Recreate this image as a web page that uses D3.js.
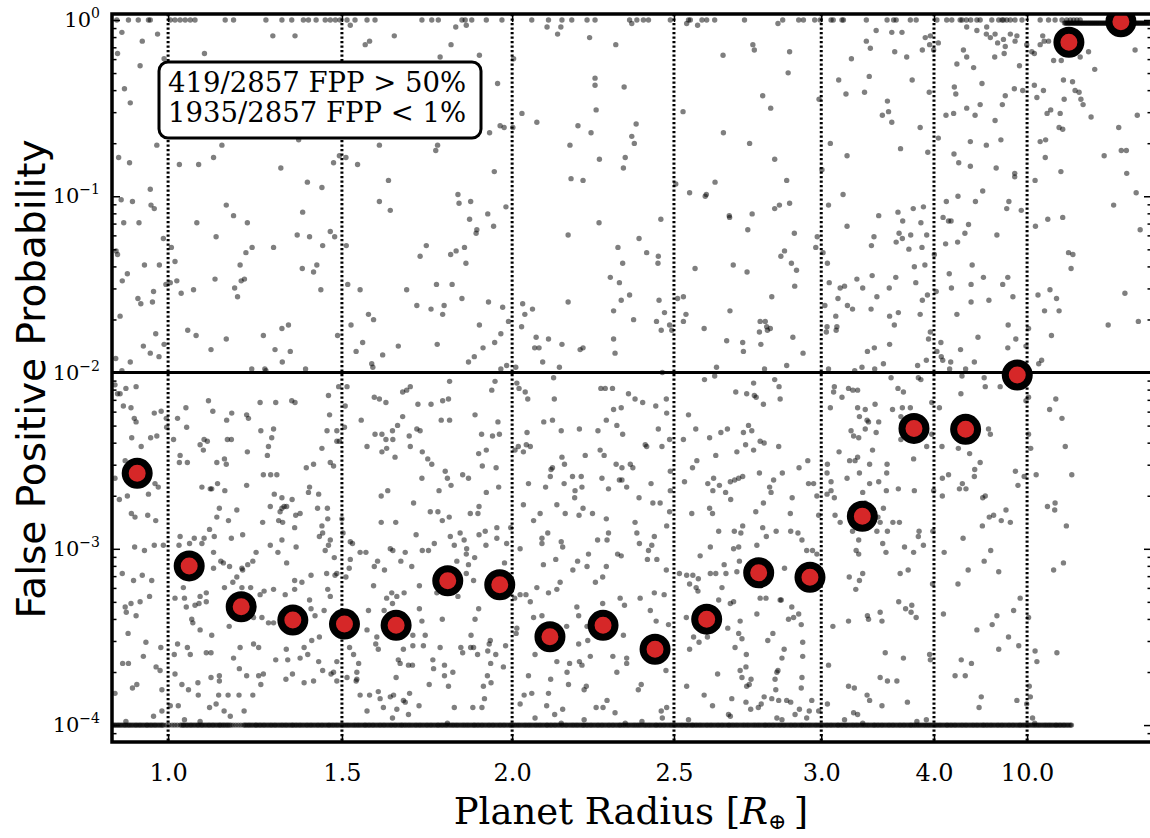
<!DOCTYPE html>
<html>
<head>
<meta charset="utf-8">
<script src="https://cdn.jsdelivr.net/npm/d3@7"></script>
<style>
  body { margin: 0; background: #fff; }
  svg { display: block; }
</style>
</head>
<body>
<script>
// planets are sorted by radius, x axis is the rank in that list
const NPLANETS = 2857;
const tickRadii = ['1.0', '1.5', '2.0', '2.5', '3.0', '4.0', '10.0'];
const tickRanks = [157, 635, 1103, 1548, 1953, 2263, 2519];
const yTickExps = [0, -1, -2, -3, -4];
const boxLines = ['419/2857 FPP > 50%', '1935/2857 FPP < 1%'];
const fppThreshold = 0.01;

// median FPP in 20 radius bins
const binRanks = [72, 215, 358, 500, 642, 784, 926, 1069, 1207, 1353, 1496, 1638, 1781, 1922, 2066, 2208, 2350, 2492, 2634, 2777];
const binMedianFpp = [2.68e-3, 8.0e-4, 4.69e-4, 3.94e-4, 3.74e-4, 3.68e-4, 6.59e-4, 6.25e-4, 3.17e-4, 3.68e-4,
  2.69e-4, 3.99e-4, 7.31e-4, 6.89e-4, 1.53e-3, 4.82e-3, 4.76e-3, 9.68e-3, 0.747, 0.978];

// candidates clipped at the FPP floor (1e-4)
const floorFpp = 1e-4;
const floorRanks = [
  0,4,8,11,15,19,22,26,30,34,38,41,45,49,52,56,60,64,68,71,75,79,82,86,90,94,98,
  100,104,108,111,115,119,122,126,130,134,138,141,145,152,160,168,175,182,190,194,198,
  200,204,208,211,215,219,222,226,230,234,238,241,245,249,252,256,260,264,268,271,275,279,282,286,290,294,298,
  300,304,308,311,315,319,322,326,330,336,343,350,357,364,368,371,375,379,382,386,390,394,398,
  400,404,408,411,415,419,422,426,430,434,438,441,445,449,452,456,460,464,468,471,475,479,482,486,490,494,498,
  500,504,508,511,515,519,522,526,530,534,538,541,545,549,552,556,560,564,568,571,575,579,582,586,590,594,598,
  600,604,608,611,615,619,622,626,630,634,638,641,645,649,652,656,660,664,668,671,675,679,682,686,690,694,698,
  700,704,708,711,715,719,722,726,730,734,738,741,745,749,752,756,760,764,768,771,775,779,782,786,790,794,798,
  800,804,808,811,815,819,822,826,830,834,838,841,845,849,852,856,860,864,868,871,875,879,882,886,890,894,898,
  900,904,908,911,915,919,922,926,930,934,938,941,945,949,952,956,960,964,968,971,975,979,982,986,990,994,998,
  1000,1004,1008,1011,1015,1019,1022,1026,1030,1034,1038,1041,1045,1049,1052,1056,1060,1064,1068,1071,1075,1079,1082,1086,1090,1094,1098,
  1100,1104,1108,1111,1115,1119,1122,1126,1130,1134,1138,1141,1145,1149,1152,1156,1160,1164,1168,1171,1175,1179,1182,1186,1190,1194,1198,
  1200,1204,1208,1211,1215,1219,1222,1226,1230,1234,1238,1241,1245,1249,1252,1256,1260,1264,1268,1271,1275,1279,1282,1286,1290,1294,1298,
  1300,1304,1308,1311,1315,1319,1322,1326,1330,1334,1338,1341,1345,1349,1352,1356,1360,1364,1368,1371,1375,1379,1382,1386,1390,1394,1398,
  1400,1404,1408,1411,1415,1419,1422,1426,1430,1434,1438,1441,1445,1449,1452,1456,1460,1464,1468,1471,1475,1479,1482,1486,1490,1494,1498,
  1500,1504,1508,1511,1515,1519,1522,1526,1530,1534,1538,1541,1545,1549,1552,1556,1560,1564,1568,1571,1575,1579,1582,1586,1590,1594,1598,
  1600,1604,1608,1611,1615,1619,1622,1626,1630,1634,1638,1641,1645,1649,1652,1656,1660,1664,1668,1671,1675,1679,1682,1686,1690,1694,1698,
  1700,1704,1708,1711,1715,1719,1722,1726,1730,1734,1738,1741,1745,1749,1752,1756,1760,1764,1768,1771,1775,1779,1782,1786,1790,1794,1798,
  1800,1804,1808,1811,1815,1819,1822,1826,1830,1834,1838,1841,1845,1849,1852,1856,1860,1864,1868,1871,1875,1879,1882,1886,1890,1894,1898,
  1900,1904,1908,1911,1915,1919,1922,1926,1930,1934,1938,1941,1945,1949,1952,1956,1960,1964,1968,1971,1975,1979,1982,1986,1990,1994,1998,
  2000,2004,2008,2011,2015,2019,2022,2026,2030,2034,2038,2041,2045,2049,2052,2056,2060,2064,2068,2071,2075,2079,2082,2086,2090,2094,2098,
  2100,2104,2108,2111,2115,2119,2122,2126,2130,2134,2138,2141,2145,2149,2152,2156,2160,2164,2168,2171,2175,2179,2182,2186,2190,2194,2198,
  2200,2204,2208,2211,2215,2219,2222,2226,2230,2234,2238,2241,2245,2249,2252,2256,2260,2264,2268,2271,2275,2279,2282,2286,2290,2294,2298,
  2300,2304,2308,2311,2315,2319,2322,2326,2330,2334,2338,2341,2345,2349,2352,2356,2360,2364,2368,2371,2375,2379,2382,2386,2390,2394,2398,
  2400,2404,2408,2411,2415,2419,2422,2426,2430,2434,2438,2441,2445,2449,2452,2456,2460,2464,2468,2471,2475,2479,2482,2486,2490,2494,2498,
  2500,2504,2508,2511,2515,2519,2522,2526,2530,2534,2538,2541,2545,2549,2552,2556,2560,2564,2568,2571,2575,2579,2582,2586,2590,2594,2598,
  2600,2604,2608,2611,2615,2619,2622,2626,2630,2634,2638,2641
];

// candidates with FPP = 1
const unityRanks = [16,48,75,103,108,163,176,190,204,218,231,314,337,426,470,497,529,543,564,589,603,617,630,649,671,704,
  726,855,882,900,965,974,992,1032,1075,1157,1203,1240,1267,1309,1331,1426,
  1446,1464,1478,1538,1588,1593,1625,1638,1660,1742,1847,1891,1904,1935,1950,1980,1986,2010,2014,2077,2134,
  2152,2159,2198,2214,2271,2298,2312,2335,2340,2352,2364,2381,2390,2422,2441,2450,2454,2463,2473,2486,2505,2555,2578,2596,2615,2628,2638,2647,2656,2665];

// the largest planets, all sitting just under FPP = 1
const giantFpp = 0.96;
const giantRanks = [2622,2625,2627,2630,2632,2635,2637,2640,2642,2645,2647,2650,2652,2655,2657,2660,2662,2665,2667,2670,2672,2675,2677,2680,
  2682,2685,2687,2690,2692,2695,2697,2700,2702,2705,2707,2710,2712,2715,2717,2720,2722,2725,2727,2730,2732,2735,2737,2740,2742,2745,2747,2750,
  2752,2755,2757,2760,2762,2765,2767,2770,2772,2775,2777,2780,2782,2785,2787,2790,2792,2795,2797,2800,2802,2805,2807,2810,2812,2815,2817,2820,
  2822,2825,2827,2830,2832,2835,2837,2840,2842,2845,2847,2850,2852,2855,2857];

// everything else: [rank, log10 FPP]
const scatterRankLogFpp = [
  [506,-0.09],[658,-0.03],[699,-0.14],[711,-0.12],[30,-0.07],[128,-0.08],[86,-0.12],[18,-0.19],[80,-0.26],[257,-0.19],[445,-0.09],[146,-0.22],
  [37,-0.39],[53,-0.47],[126,-0.71],[305,-0.71],[516,-0.68],[21,-0.78],[51,-0.81],[188,-0.82],[241,-0.82],[282,-0.78],[467,-0.84],[612,-0.81],
  [628,-0.77],[646,-0.78],[678,-0.82],[540,-0.92],[580,-0.95],[108,-0.96],[28,-1.02],[59,-1.03],[110,-1.05],[119,-1.07],[317,-1.05],[527,-1.09],
  [337,-1.11],[375,-1.15],[236,-1.15],[35,-1.15],[77,-1.15],[289,-1.23],[512,-1.22],[546,-1.23],[603,-1.20],[615,-1.23],[582,-1.28],[144,-1.24],
  [14,-1.31],[18,-1.33],[166,-1.29],[371,-1.32],[388,-1.29],[447,-1.29],[647,-1.28],[92,-1.39],[133,-1.39],[176,-1.37],[355,-1.39],[526,-1.41],
  [557,-1.43],[566,-1.39],[45,-1.44],[31,-1.48],[286,-1.47],[367,-1.47],[358,-1.48],[181,-1.48],[163,-1.49],[151,-1.50],[340,-1.52],[348,-1.57],
  [227,-1.53],[193,-1.55],[577,-1.53],[651,-1.50],[685,-1.53],[74,-1.58],[82,-1.61],[114,-1.60],[117,-1.54],[25,-1.68],[708,-1.67],[123,-1.78],
  [211,-1.76],[234,-1.79],[317,-1.81],[419,-1.79],[470,-1.75],[488,-1.73],[623,-1.79],[660,-1.73],[89,-1.85],[146,-1.84],[275,-1.87],[451,-1.87],
  [493,-1.88],[674,-1.88],[692,-1.83],[108,-1.89],[132,-1.91],[53,-1.94],[13,-1.92],[471,-1.94],[30,-1.99],[387,-1.98],[423,-1.98],[426,-1.99],[535,-1.98],
  [948,-0.04],[977,-0.03],[1199,-0.04],[1228,-0.08],[1237,-0.04],[779,-0.09],[935,-0.14],[905,-0.21],[1013,-0.20],[1316,-0.10],[1388,-0.14],
  [1107,-0.22],[1063,-0.36],[1130,-0.53],[1171,-0.58],[1331,-0.33],[1331,-0.37],[1334,-0.51],[1411,-0.38],[1070,-0.60],[1081,-0.61],[1105,-0.61],
  [1041,-0.64],[738,-0.71],[898,-0.71],[893,-0.74],[1284,-0.60],[1262,-0.71],[1320,-0.64],[1343,-0.79],[1414,-0.78],[1409,-0.84],[1265,-0.90],
  [1298,-0.91],[1054,-0.86],[763,-0.91],[738,-1.03],[768,-1.08],[954,-0.99],[957,-1.04],[989,-1.03],[1086,-1.06],[1036,-1.10],[986,-1.13],
  [1006,-1.19],[1004,-1.21],[1052,-1.17],[1342,-1.15],[1257,-1.22],[1394,-1.29],[1407,-1.38],[1373,-1.46],[1398,-1.49],[1403,-1.59],[1382,-1.65],
  [1426,-1.56],[867,-1.28],[850,-1.34],[934,-1.33],[949,-1.31],[972,-1.29],[976,-1.38],[813,-1.53],[895,-1.50],[938,-1.50],[965,-1.58],[841,-1.62],
  [880,-1.64],[912,-1.67],[916,-1.62],[722,-1.70],[1038,-1.60],[1077,-1.63],[1132,-1.61],[1138,-1.67],[1159,-1.64],[1257,-1.60],[1013,-1.73],
  [1093,-1.71],[1072,-1.78],[1129,-1.74],[790,-1.85],[897,-1.84],[1023,-1.86],[1055,-1.83],[1169,-1.80],[1165,-1.86],[1177,-1.86],[1203,-1.81],
  [1240,-1.84],[1290,-1.87],[1298,-1.86],[1382,-1.81],[1386,-1.89],[747,-1.90],[983,-1.94],[999,-1.91],[717,-1.95],[720,-1.97],[1187,-1.94],
  [1233,-1.97],[1088,-1.96],[1113,-1.97],[1072,-1.98],
  [1432,-0.02],[1583,-0.02],[1613,-0.03],[1834,-0.02],[1765,-0.14],[1769,-0.17],[1683,-0.20],[1866,-0.18],[1862,-0.30],[2077,-0.12],[2088,-0.16],
  [2104,-0.06],[2036,-0.22],[2085,-0.32],[2001,-0.34],[2021,-0.42],[2072,-0.41],[2135,-0.46],[2138,-0.52],[2121,-0.54],[1947,-0.45],[1573,-0.52],
  [1792,-0.43],[1814,-0.50],[1444,-0.59],[1432,-0.66],[1439,-0.70],[1684,-0.64],[1756,-0.70],[1825,-0.79],[1978,-0.70],[2024,-0.77],[1955,-0.85],
  [1553,-0.93],[1591,-0.98],[1637,-0.99],[1634,-1.00],[1661,-0.92],[1858,-0.91],[2013,-0.99],[1973,-1.05],[1825,-1.07],[1838,-1.05],[1866,-1.04],
  [1700,-1.11],[1701,-1.12],[1763,-1.10],[1512,-1.13],[2111,-1.11],[2024,-1.17],[1751,-1.19],[1879,-1.21],[1452,-1.24],[1473,-1.32],[1505,-1.34],
  [1504,-1.38],[1711,-1.39],[1842,-1.34],[1852,-1.31],[1871,-1.38],[1885,-1.42],[1749,-1.43],[1606,-1.41],[1938,-1.29],[1942,-1.23],[1958,-1.32],
  [1970,-1.38],[2098,-1.23],[2091,-1.28],[1880,-1.51],[1817,-1.57],[1507,-1.59],[1522,-1.66],[1574,-1.57],[1558,-1.58],[1581,-1.67],[1574,-1.71],
  [1437,-1.70],[1500,-1.71],[1513,-1.76],[1536,-1.73],[1542,-1.76],[1702,-1.65],[1631,-1.75],[1975,-1.49],[2005,-1.52],[2017,-1.51],[2051,-1.47],
  [2067,-1.52],[2093,-1.45],[2106,-1.57],[2140,-1.52],[1999,-1.58],[2025,-1.62],[2039,-1.64],[2090,-1.64],[1963,-1.62],[1993,-1.68],[1996,-1.74],
  [1994,-1.76],[1969,-1.74],[1967,-1.77],[2141,-1.68],[1785,-1.71],[1799,-1.71],[1803,-1.74],[1813,-1.75],[1783,-1.77],[1805,-1.76],[1875,-1.80],
  [1693,-1.82],[1737,-1.83],[1739,-1.88],[1787,-1.84],[1903,-1.89],[2080,-1.88],[2099,-1.86],[2141,-1.84],[2124,-1.95],[2065,-1.97],[2100,-1.98],
  [2045,-1.99],[1973,-1.98],[1665,-1.97],[1797,-1.98],[1858,-1.96],[1516,-2.00],
  [2175,-0.07],[2147,-0.07],[2239,-0.10],[2253,-0.09],[2251,-0.14],[2262,-0.17],[2275,-0.13],[2231,-0.17],[2155,-0.18],[2188,-0.21],[2203,-0.34],
  [2326,-0.25],[2344,-0.17],[2353,-0.21],[2353,-0.04],[2381,-0.06],[2372,-0.27],[2395,-0.36],[2408,-0.04],[2407,-0.08],[2418,-0.10],[2431,-0.08],
  [2438,-0.13],[2454,-0.11],[2459,-0.15],[2473,-0.08],[2491,-0.09],[2486,-0.12],[2430,-0.21],[2456,-0.19],[2498,-0.26],[2518,-0.14],[2532,-0.18],
  [2539,-0.19],[2562,-0.09],[2578,-0.12],[2592,-0.23],[2613,-0.23],[2665,-0.21],[2688,-0.18],[2705,-0.28],[2816,-0.17],[2555,-0.14],[2566,-0.12],
  [2319,-0.38],[2323,-0.42],[2250,-0.41],[2147,-0.58],[2225,-0.61],[2296,-0.54],[2317,-0.53],[2353,-0.50],[2376,-0.54],[2390,-0.48],[2431,-0.57],
  [2451,-0.48],[2459,-0.43],[2484,-0.39],[2507,-0.40],[2539,-0.37],[2564,-0.40],[2546,-0.44],[2619,-0.34],[2644,-0.35],[2651,-0.40],[2662,-0.41],
  [2621,-0.45],[2667,-0.45],[2673,-0.48],[2574,-0.53],[2584,-0.51],[2610,-0.53],[2695,-0.55],[2822,-0.54],[2607,-0.61],[2617,-0.62],[2771,-0.61],
  [2275,-0.67],[2363,-0.69],[2407,-0.71],[2447,-0.68],[2555,-0.69],[2570,-0.68],[2171,-0.73],[2246,-0.75],[2318,-0.76],[2331,-0.81],[2363,-0.83],
  [2434,-0.84],[2485,-0.87],[2485,-0.89],[2569,-0.78],[2612,-0.86],[2731,-0.77],[2778,-0.74],[2792,-0.74],[2793,-0.87],[2541,-0.91],[2397,-0.97],
  [2329,-1.00],[2297,-1.03],[2377,-1.03],[2469,-1.03],[2463,-1.07],[2503,-1.08],[2819,-0.98],[2757,-1.05],[2164,-1.09],[2206,-1.07],[2234,-1.06],
  [2177,-1.14],[2227,-1.15],[2288,-1.12],[2303,-1.14],[2310,-1.14],[2358,-1.16],[2348,-1.21],[2243,-1.22],[2199,-1.22],[2167,-1.21],[2159,-1.26],
  [2176,-1.24],[2194,-1.30],[2230,-1.29],[2295,-1.27],[2328,-1.26],[2436,-1.22],[2542,-1.17],[2576,-1.13],[2617,-1.12],[2633,-1.32],[2645,-1.33],
  [2640,-1.41],[2830,-1.19],[2209,-1.40],[2238,-1.39],[2264,-1.33],[2158,-1.46],[2213,-1.49],[2231,-1.59],[2245,-1.56],[2269,-1.54],[2305,-1.44],
  [2311,-1.52],[2365,-1.50],[2368,-1.39],[2399,-1.46],[2452,-1.50],[2466,-1.46],[2480,-1.57],[2365,-1.60],[2414,-1.59],[2549,-1.56],[2582,-1.53],
  [2600,-1.58],[2567,-1.65],[2607,-1.65],[2788,-1.55],[2165,-1.66],[2154,-1.73],[2225,-1.67],[2326,-1.67],[2467,-1.73],[2742,-1.73],[2825,-1.71],
  [2586,-1.79],[2253,-1.77],[2248,-1.81],[2282,-1.83],[2384,-1.80],[2488,-1.81],[2336,-1.87],[2466,-1.86],[2271,-1.88],[2283,-1.91],[2287,-1.93],
  [2309,-1.94],[2374,-1.94],[2218,-1.96],[2242,-1.93],[2516,-1.85],[2523,-1.75],[2559,-1.93],[2551,-1.95],[2306,-1.98],[2350,-1.98],
  [11,-2.07],[18,-2.12],[25,-2.12],[41,-2.09],[69,-2.08],[34,-2.19],[55,-2.20],[64,-2.26],[69,-2.28],[57,-2.37],[83,-2.42],[39,-2.50],[11,-2.60],
  [23,-2.72],[45,-2.70],[56,-2.80],[66,-2.82],[101,-2.81],[123,-2.84],[121,-2.63],[130,-2.65],[103,-2.69],[109,-2.37],[126,-2.36],[119,-2.23],
  [138,-2.22],[153,-2.31],[152,-2.26],[172,-2.38],[183,-2.26],[206,-2.20],[208,-2.31],[245,-2.41],[256,-2.38],[265,-2.39],[254,-2.44],[190,-2.47],
  [188,-2.51],[210,-2.51],[291,-2.51],[312,-2.49],[317,-2.52],[250,-2.65],[277,-2.66],[273,-2.66],[293,-2.63],[313,-2.67],[268,-2.16],[280,-2.22],
  [318,-2.27],[332,-2.23],[320,-2.38],[331,-2.38],[373,-2.24],[378,-2.26],[412,-2.33],[410,-2.17],[453,-2.17],[497,-2.16],[506,-2.17],[447,-2.32],
  [442,-2.37],[433,-2.42],[430,-2.47],[419,-2.58],[439,-2.58],[456,-2.58],[449,-2.69],[375,-2.45],[373,-2.64],[346,-2.78],[323,-2.84],[298,-2.77],
  [291,-2.82],[284,-2.93],[271,-2.89],[256,-2.94],[250,-2.97],[229,-2.94],[216,-2.97],[190,-2.93],[187,-2.98],[144,-2.98],[119,-2.98],[65,-2.99],
  [92,-3.01],[31,-3.14],[62,-3.18],[86,-3.15],[112,-3.18],[106,-3.27],[55,-3.31],[39,-3.33],[42,-3.36],[69,-3.38],[80,-3.30],[47,-3.48],[96,-3.53],
  [89,-3.61],[137,-3.56],[124,-3.67],[135,-3.69],[32,-3.65],[48,-3.65],[11,-3.82],[59,-3.79],[71,-3.77],[140,-3.80],[117,-3.95],[140,-3.92],
  [41,-3.98],[163,-3.89],[176,-3.28],[199,-3.22],[208,-3.15],[207,-3.33],[222,-3.40],[245,-3.46],[225,-3.42],[183,-3.54],[210,-3.56],[218,-3.60],
  [174,-3.60],[176,-3.71],[195,-3.77],[213,-3.80],[185,-3.89],[202,-3.97],[239,-3.76],[240,-3.83],[245,-3.98],[262,-3.59],[275,-3.59],[275,-3.73],
  [298,-3.72],[298,-3.75],[277,-3.49],[325,-3.44],[337,-3.62],[353,-3.68],[355,-3.56],[373,-3.72],[392,-3.54],[406,-3.56],[406,-3.72],[412,-3.77],
  [419,-3.71],[390,-3.83],[352,-3.83],[322,-3.83],[296,-3.83],[271,-3.90],[311,-3.92],[328,-3.95],[366,-3.92],[289,-3.88],[415,-3.39],[384,-3.33],
  [384,-3.22],[410,-3.26],[392,-3.39],[433,-3.42],[447,-3.42],[453,-3.63],[482,-3.57],[486,-3.63],[499,-3.71],[481,-3.74],[531,-3.76],[557,-3.75],
  [552,-3.52],[531,-3.56],[541,-3.60],[520,-3.62],[571,-3.64],[582,-3.69],[605,-3.71],[612,-3.70],[621,-3.64],[573,-3.50],[561,-3.38],[550,-3.34],
  [546,-3.29],[586,-3.35],[596,-3.23],[603,-3.27],[593,-3.14],[621,-3.14],[614,-3.05],[589,-3.01],[603,-2.95],[573,-2.93],[582,-2.91],[598,-2.98],
  [550,-3.15],[525,-3.19],[505,-3.18],[505,-3.23],[479,-3.26],[483,-3.08],[509,-2.99],[470,-2.95],[459,-3.02],[438,-2.98],[447,-3.23],[421,-3.24],
  [390,-3.07],[399,-3.02],[360,-3.11],[346,-3.16],[326,-3.10],[302,-3.07],[309,-3.08],[282,-3.02],[282,-3.11],[312,-3.22],[335,-3.19],[360,-3.22],
  [362,-3.12],[376,-3.09],[262,-3.25],[245,-3.27],[242,-3.31],[262,-3.30],[231,-3.32],[202,-3.28],[685,-3.02],[701,-3.02],[658,-2.96],[664,-2.97],
  [658,-3.06],[655,-3.11],[646,-3.16],[616,-3.15],[656,-3.56],[667,-3.60],[681,-3.65],[676,-3.70],[676,-3.74],[674,-3.75],[649,-3.73],[685,-3.83],
  [704,-3.92],[621,-3.75],[639,-3.46],[635,-3.49],[704,-3.46],[708,-3.35],[638,-2.91],[635,-2.83],[596,-2.83],[580,-2.87],[568,-2.77],[595,-2.77],
  [571,-2.69],[543,-2.68],[546,-2.65],[557,-2.52],[537,-2.54],[603,-2.51],[612,-2.53],[580,-2.43],[621,-2.39],[628,-2.39],[594,-2.33],[621,-2.33],
  [642,-2.31],[601,-2.24],[598,-2.13],[626,-2.08],[649,-2.08],[644,-2.19],[688,-2.27],[704,-2.42],[508,-2.81],[520,-2.80],[470,-2.77],[465,-2.79],
  [476,-2.76],[483,-2.76],[461,-2.84],[505,-2.88],[470,-2.71],[498,-2.72],[472,-2.85],[438,-2.76],[417,-2.85],[362,-2.92],[331,-2.94],
  [931,-2.05],[823,-2.08],[813,-2.10],[802,-2.11],[724,-2.14],[738,-2.15],[756,-2.17],[844,-2.18],[880,-2.18],[912,-2.16],[928,-2.15],[1056,-2.05],
  [1047,-2.10],[1001,-2.24],[802,-2.25],[788,-2.30],[774,-2.33],[726,-2.35],[745,-2.35],[756,-2.38],[775,-2.38],[745,-2.45],[758,-2.43],[781,-2.48],
  [820,-2.36],[823,-2.42],[841,-2.32],[850,-2.33],[856,-2.45],[871,-2.49],[882,-2.52],[908,-2.27],[931,-2.27],[919,-2.56],[925,-2.60],[935,-2.64],
  [855,-2.60],[832,-2.74],[743,-2.70],[761,-2.67],[743,-2.85],[783,-2.85],[902,-2.67],[878,-2.79],[899,-2.79],[911,-2.84],[930,-2.82],[967,-2.58],
  [983,-2.60],[1032,-2.68],[1059,-2.54],[1021,-2.53],[1011,-2.46],[1032,-2.44],[1019,-2.35],[1049,-2.36],[1068,-2.35],[1064,-2.28],[1066,-2.65],
  [988,-2.80],[1009,-2.80],[1012,-2.76],[960,-2.91],[933,-2.93],[944,-2.98],[971,-2.95],[978,-3.00],[1012,-2.92],[1029,-2.90],[1031,-2.98],
  [1061,-2.88],[1061,-2.94],[1088,-2.97],[1099,-2.88],[839,-2.92],[889,-2.97],[856,-3.01],[873,-3.01],[768,-3.00],[775,-3.01],[809,-3.02],
  [797,-3.07],[827,-3.10],[733,-3.07],[724,-3.10],[752,-3.12],[951,-3.07],[977,-3.03],[983,-3.09],[1000,-3.05],[1082,-3.08],[977,-3.14],
  [997,-3.18],[848,-3.21],[806,-3.25],[772,-3.25],[786,-3.27],[758,-3.28],[774,-3.31],[954,-3.27],[896,-3.25],[722,-3.21],[751,-3.35],[848,-3.34],
  [855,-3.41],[864,-3.49],[830,-3.49],[804,-3.44],[911,-3.40],[1001,-3.40],[1011,-3.34],[990,-3.49],[962,-3.56],[967,-3.59],[989,-3.56],[997,-3.56],
  [1008,-3.60],[1036,-3.58],[1043,-3.52],[1040,-3.54],[1058,-3.60],[1085,-3.55],[905,-3.56],[859,-3.55],[830,-3.55],[804,-3.57],[728,-3.54],
  [735,-3.57],[731,-3.50],[790,-3.63],[795,-3.65],[818,-3.66],[829,-3.66],[784,-3.73],[711,-3.83],[735,-3.81],[740,-3.85],[768,-3.84],[777,-3.83],
  [821,-3.82],[804,-3.86],[809,-3.87],[749,-3.90],[786,-3.91],[774,-3.96],[818,-3.94],[847,-3.89],[885,-3.63],[887,-3.68],[917,-3.66],[917,-3.72],
  [940,-3.70],[875,-3.77],[928,-3.78],[944,-3.90],[925,-3.99],[995,-3.90],[1020,-3.90],[1027,-3.85],[1024,-3.78],[1035,-3.72],[1045,-3.76],
  [1044,-3.65],[1079,-3.67],[1116,-2.06],[1122,-2.09],[1139,-2.11],[1146,-2.15],[1217,-2.03],[1219,-2.15],[1347,-2.09],[1359,-2.09],[1379,-2.09],
  [1423,-2.12],[1190,-2.28],[1214,-2.27],[1238,-2.33],[1288,-2.32],[1339,-2.33],[1362,-2.27],[1382,-2.21],[1403,-2.20],[1391,-2.30],[1144,-2.34],
  [1142,-2.41],[1153,-2.42],[1120,-2.42],[1134,-2.45],[1111,-2.44],[1240,-2.48],[1247,-2.52],[1214,-2.54],[1210,-2.55],[1208,-2.59],[1148,-2.63],
  [1134,-2.75],[1162,-2.84],[1195,-2.65],[1226,-2.75],[1249,-2.80],[1246,-2.63],[1269,-2.59],[1276,-2.67],[1275,-2.71],[1293,-2.59],[1295,-2.65],
  [1298,-2.77],[1287,-2.81],[1304,-2.47],[1345,-2.44],[1356,-2.47],[1324,-2.80],[1362,-2.83],[1350,-2.60],[1368,-2.66],[1398,-2.61],[1389,-2.52],
  [1405,-2.54],[1418,-2.65],[1180,-2.80],[1185,-2.94],[1185,-2.97],[1201,-2.91],[1238,-2.96],[1242,-2.99],[1223,-3.06],[1189,-3.09],[1125,-3.00],
  [1338,-2.95],[1364,-2.95],[1368,-2.91],[1313,-3.03],[1283,-3.07],[1270,-3.12],[1309,-3.10],[1362,-3.10],[1393,-3.03],[1403,-3.04],[1352,-3.16],
  [1332,-3.19],[1235,-3.19],[1226,-3.23],[1203,-3.25],[1171,-3.22],[1141,-3.26],[1153,-3.30],[1110,-3.28],[1125,-3.26],[1281,-3.33],[1286,-3.38],
  [1253,-3.44],[1309,-3.44],[1352,-3.31],[1400,-3.28],[1185,-3.38],[1162,-3.39],[1116,-3.45],[1114,-3.48],[1166,-3.60],[1226,-3.64],[1261,-3.65],
  [1288,-3.64],[1295,-3.66],[1318,-3.61],[1311,-3.52],[1286,-3.54],[1362,-3.49],[1380,-3.61],[1391,-3.70],[1418,-3.62],[1148,-3.72],[1125,-3.88],
  [1136,-3.83],[1157,-3.82],[1203,-3.82],[1209,-3.74],[1254,-3.70],[1258,-3.77],[1301,-3.80],[1307,-3.78],[1198,-3.89],[1220,-3.94],[1166,-3.96],
  [1242,-3.91],[1301,-3.97],[1334,-3.90],[1353,-3.90],[1364,-3.86],[1386,-3.93],[1238,-3.99],[1414,-3.99],
  [1441,-2.15],[1462,-2.17],[1498,-2.19],[1527,-2.15],[1528,-2.23],[1407,-2.35],[1505,-2.32],[1469,-2.41],[1473,-2.42],[1515,-2.42],[1536,-2.38],
  [1428,-2.52],[1435,-2.54],[1405,-2.61],[1485,-2.63],[1538,-2.56],[1538,-2.67],[1452,-2.71],[1490,-2.74],[1510,-2.74],[1536,-2.79],[1528,-2.87],
  [1441,-2.85],[1446,-2.91],[1453,-2.97],[1478,-3.01],[1487,-2.98],[1494,-2.93],[1475,-3.06],[1501,-3.06],[1527,-3.12],[1412,-3.32],[1455,-3.28],
  [1494,-3.25],[1521,-3.26],[1483,-3.35],[1499,-3.41],[1533,-3.43],[1409,-3.49],[1418,-3.65],[1526,-3.69],[1458,-3.77],[1450,-3.80],[1528,-3.90],
  [1513,-3.92],[1516,-3.96],[1460,-3.98],[1588,-2.24],[1608,-2.32],[1632,-2.04],[1660,-2.02],[1718,-2.11],[1748,-2.12],[1767,-2.06],[1769,-2.13],
  [1774,-2.14],[1794,-2.18],[1825,-2.04],[1837,-2.08],[1840,-2.15],[1574,-2.38],[1646,-2.37],[1677,-2.34],[1695,-2.32],[1739,-2.34],[1753,-2.30],
  [1762,-2.33],[1745,-2.41],[1767,-2.44],[1785,-2.39],[1796,-2.40],[1836,-2.42],[1721,-2.45],[1663,-2.47],[1599,-2.54],[1611,-2.50],[1641,-2.63],
  [1657,-2.60],[1673,-2.64],[1655,-2.67],[1690,-2.68],[1703,-2.62],[1715,-2.61],[1726,-2.60],[1737,-2.59],[1704,-2.72],[1577,-2.62],[1597,-2.80],
  [1646,-2.77],[1654,-2.80],[1648,-2.99],[1620,-3.04],[1671,-2.90],[1714,-2.90],[1732,-2.91],[1737,-2.87],[1726,-2.99],[1712,-3.00],[1728,-3.07],
  [1773,-2.79],[1794,-2.74],[1783,-2.57],[1811,-2.65],[1815,-2.68],[1822,-2.61],[1846,-2.57],[1868,-2.80],[1873,-2.71],[1892,-2.54],[1916,-2.50],
  [1932,-2.63],[1918,-2.63],[1941,-2.70],[1946,-2.81],[1776,-2.98],[1792,-2.88],[1802,-2.93],[1829,-2.90],[1869,-2.90],[1889,-2.91],[1900,-2.95],
  [1913,-3.01],[1929,-3.01],[1941,-3.03],[1852,-3.11],[1765,-3.14],[1721,-3.13],[1686,-3.09],[1691,-3.14],[1663,-3.14],[1648,-3.14],[1615,-3.17],
  [1600,-3.15],[1563,-3.14],[1583,-3.15],[1591,-3.20],[1614,-3.24],[1609,-3.22],[1680,-3.22],[1671,-3.29],[1712,-3.30],[1703,-3.31],[1785,-3.28],
  [1801,-3.28],[1840,-3.29],[1843,-3.29],[1872,-3.33],[1863,-3.40],[1877,-3.39],[1891,-3.37],[1898,-3.43],[1776,-3.37],[1730,-3.41],[1726,-3.48],
  [1735,-3.51],[1696,-3.45],[1582,-3.39],[1602,-3.50],[1617,-3.53],[1640,-3.50],[1591,-3.57],[1583,-3.78],[1668,-3.71],[1716,-3.56],[1747,-3.60],
  [1746,-3.67],[1730,-3.69],[1735,-3.73],[1760,-3.74],[1755,-3.77],[1748,-3.78],[1806,-3.52],[1820,-3.48],[1851,-3.57],[1845,-3.62],[1834,-3.69],
  [1831,-3.70],[1826,-3.74],[1828,-3.80],[1796,-3.84],[1788,-3.88],[1780,-3.90],[1759,-3.91],[1746,-3.87],[1707,-3.85],[1654,-3.89],[1631,-3.83],
  [1588,-3.97],[1698,-3.94],[1703,-3.95],[1817,-3.85],[1836,-3.86],[1858,-3.86],[1869,-3.87],[1881,-3.94],[1898,-3.79],[1900,-3.73],[1902,-3.61],
  [1902,-3.53],[1927,-3.86],[1920,-3.92],[1913,-3.96],[1893,-3.91],[1845,-3.97],[1831,-3.96],[1946,-3.92],[1970,-3.88],[1978,-2.20],[1987,-2.11],
  [1989,-2.08],[2010,-2.14],[2028,-2.09],[2040,-2.10],[2053,-2.10],[2101,-2.18],[2053,-2.20],[2074,-2.21],[2058,-2.25],[2079,-2.27],[2083,-2.28],
  [2111,-2.28],[2104,-2.34],[2074,-2.32],[2035,-2.33],[2042,-2.36],[2056,-2.37],[2002,-2.45],[2053,-2.48],[2094,-2.44],[2031,-2.50],[2046,-2.50],
  [2086,-2.52],[2134,-2.52],[1970,-2.52],[1980,-2.62],[1989,-2.71],[1980,-2.67],[1969,-2.57],[1969,-2.69],[2024,-2.60],[2058,-2.57],[2086,-2.63],
  [2111,-2.62],[2132,-2.67],[2067,-2.68],[1991,-2.81],[2005,-2.85],[2074,-2.74],[2124,-2.77],[2109,-2.82],[2106,-2.90],[2115,-2.85],[2135,-2.90],
  [2131,-3.02],[2079,-2.88],[2056,-2.95],[2049,-3.01],[2056,-3.03],[2039,-2.90],[2030,-3.16],[2058,-3.18],[2048,-3.23],[2067,-3.14],[1985,-3.44],
  [2028,-3.41],[2080,-3.38],[2083,-3.40],[2115,-3.36],[2120,-3.41],[2129,-3.59],[2115,-3.73],[2135,-3.75],[2028,-3.78],[2044,-3.79],[2079,-3.83],
  [2086,-3.86],[2042,-3.93],[2053,-3.94],[1973,-3.66],[2017,-3.97],[2067,-3.99],
  [2145,-2.03],[2220,-2.03],[2227,-2.04],[2340,-2.02],[2164,-2.09],[2179,-2.11],[2257,-2.17],[2278,-2.20],[2149,-2.21],[2176,-2.20],[2198,-2.20],
  [2337,-2.12],[2404,-2.08],[2401,-2.03],[2445,-2.08],[2172,-2.25],[2172,-2.38],[2243,-2.42],[2257,-2.35],[2285,-2.42],[2330,-2.43],[2361,-2.46],
  [2413,-2.32],[2418,-2.35],[2207,-2.49],[2133,-2.57],[2165,-2.66],[2209,-2.67],[2262,-2.67],[2286,-2.60],[2303,-2.58],[2286,-2.70],[2333,-2.66],
  [2341,-2.63],[2351,-2.66],[2375,-2.55],[2374,-2.59],[2390,-2.51],[2397,-2.71],[2404,-2.70],[2150,-2.85],[2168,-2.85],[2122,-2.97],[2182,-2.99],
  [2207,-3.02],[2222,-2.90],[2220,-2.93],[2234,-2.98],[2260,-2.90],[2291,-3.02],[2343,-2.94],[2396,-2.87],[2415,-2.82],[2427,-2.81],[2448,-2.84],
  [2461,-2.78],[2473,-2.85],[2419,-3.01],[2401,-3.07],[2357,-3.12],[2441,-3.13],[2170,-3.14],[2192,-3.12],[2259,-3.20],[2329,-3.20],[2166,-3.30],
  [2185,-3.34],[2202,-3.32],[2200,-3.36],[2214,-3.39],[2289,-3.37],[2381,-3.46],[2423,-3.43],[2436,-3.38],[2468,-3.50],[2441,-3.57],[2496,-3.55],
  [2500,-3.28],[2482,-3.35],[2523,-3.39],[2179,-3.62],[2251,-3.60],[2253,-3.63],[2338,-3.63],[2366,-3.65],[2161,-3.75],[2321,-3.72],[2349,-3.72],
  [2120,-3.89],[2190,-3.87],[2393,-3.84],[2387,-3.90],[2491,-3.86],[2525,-3.78],[2528,-3.84],[2518,-3.88],[2216,-3.98],[2242,-3.97],[2541,-3.58],
  [2546,-3.64],[2534,-3.96],[2540,-3.99],[2598,-2.15],[2581,-2.21],[2615,-2.26],[2624,-2.42],[2642,-2.58],[2544,-2.58],[2523,-2.35],[2529,-2.43],
  [2511,-2.59],[2487,-2.56],[2494,-2.64],[2575,-2.76],[2596,-2.74],[2595,-2.78],[2627,-2.87],[2619,-3.08],[2592,-3.12],[2523,-2.14],[2516,-2.16],
  [2601,-3.59]
];

const W = 1150, H = 838;
const frame = { left: 112, right: 1152, top: 14, bottom: 742 };

const svg = d3.select('body').append('svg')
  .attr('xmlns', 'http://www.w3.org/2000/svg')
  .attr('width', W)
  .attr('height', H);

const x = d3.scaleLinear().domain([0, NPLANETS]).range([111, 1150]);
const y = d3.scaleLog()
  .domain([Math.pow(10, -4.096), Math.pow(10, 0.034)])
  .range([frame.bottom, frame.top]);

svg.append('defs').append('clipPath').attr('id', 'plotClip')
  .append('rect')
  .attr('x', frame.left).attr('y', frame.top)
  .attr('width', frame.right - frame.left).attr('height', frame.bottom - frame.top);

// collect all candidates
let points = [];
scatterRankLogFpp.forEach(function(d) { points.push({ rank: d[0], fpp: Math.pow(10, d[1]) }); });
floorRanks.forEach(function(r) { points.push({ rank: r, fpp: floorFpp }); });
unityRanks.forEach(function(r) { points.push({ rank: r, fpp: 1 }); });
giantRanks.forEach(function(r) { points.push({ rank: r, fpp: giantFpp }); });

const plot = svg.append('g').attr('clip-path', 'url(#plotClip)');

plot.append('g').attr('class', 'candidates')
  .selectAll('circle')
  .data(points)
  .enter()
  .append('circle')
  .attr('cx', function(d) { return x(d.rank); })
  .attr('cy', function(d) { return y(d.fpp); })
  .attr('r', 2.7)
  .attr('fill', '#000')
  .attr('fill-opacity', 0.5);

// dotted lines at the radius ticks
plot.append('g')
  .selectAll('line')
  .data(tickRanks)
  .enter()
  .append('line')
  .attr('x1', function(d) { return x(d); })
  .attr('x2', function(d) { return x(d); })
  .attr('y1', frame.top)
  .attr('y2', frame.bottom)
  .attr('stroke', '#000')
  .attr('stroke-width', 3)
  .attr('stroke-dasharray', '2.2,2.3');

// FPP = 1% line
plot.append('line')
  .attr('x1', frame.left).attr('x2', frame.right)
  .attr('y1', y(fppThreshold)).attr('y2', y(fppThreshold))
  .attr('stroke', '#000')
  .attr('stroke-width', 3);

// binned medians
plot.append('g')
  .selectAll('circle')
  .data(binRanks)
  .enter()
  .append('circle')
  .attr('cx', function(d) { return x(d); })
  .attr('cy', function(d, i) { return y(binMedianFpp[i]); })
  .attr('r', 12)
  .attr('fill', '#d62728')
  .attr('stroke', '#000')
  .attr('stroke-width', 7);

// ticks, pointing inwards on all four sides
let minorY = [];
[-5, -4, -3, -2, -1].forEach(function(e) {
  for (let m = 2; m <= 9; m++) {
    let v = m * Math.pow(10, e);
    if (v > y.domain()[0] && v < y.domain()[1]) minorY.push(v);
  }
});
const majorY = yTickExps.map(function(e) { return Math.pow(10, e); });

function styleTicks(g) {
  g.select('.domain').remove();
  g.selectAll('.tick line').attr('stroke', '#000').attr('stroke-width', 1.5);
  g.selectAll('.tick text').remove();
}

svg.append('g').attr('transform', 'translate(' + frame.left + ',0)')
  .call(d3.axisLeft(y).tickValues(majorY).tickSizeInner(-8).tickSizeOuter(0))
  .call(styleTicks);
svg.append('g').attr('transform', 'translate(' + frame.left + ',0)')
  .call(d3.axisLeft(y).tickValues(minorY).tickSizeInner(-4.5).tickSizeOuter(0))
  .call(styleTicks);
svg.append('g').attr('transform', 'translate(' + frame.right + ',0)')
  .call(d3.axisRight(y).tickValues(majorY).tickSizeInner(-8).tickSizeOuter(0))
  .call(styleTicks);
svg.append('g').attr('transform', 'translate(' + frame.right + ',0)')
  .call(d3.axisRight(y).tickValues(minorY).tickSizeInner(-4.5).tickSizeOuter(0))
  .call(styleTicks);
svg.append('g').attr('transform', 'translate(0,' + frame.top + ')')
  .call(d3.axisTop(x).tickValues(tickRanks).tickSizeInner(-8).tickSizeOuter(0))
  .call(styleTicks);

// bottom axis with the radius labels
const xAxis = svg.append('g').attr('transform', 'translate(0,' + frame.bottom + ')')
  .call(d3.axisBottom(x)
    .tickValues(tickRanks)
    .tickSizeInner(-8)
    .tickSizeOuter(0)
    .tickPadding(22)
    .tickFormat(function(d, i) { return tickRadii[i]; }));
xAxis.select('.domain').remove();
xAxis.selectAll('.tick line').attr('stroke', '#000').attr('stroke-width', 1.5);
xAxis.selectAll('.tick text')
  .attr('fill', '#000')
  .attr('font-family', 'DejaVu Serif')
  .attr('font-size', 24);

// y tick labels as 10^n
const yLabels = svg.append('g')
  .attr('font-family', 'DejaVu Serif')
  .attr('fill', '#000');
yTickExps.forEach(function(e) {
  let t = yLabels.append('text')
    .attr('x', 100)
    .attr('y', y(Math.pow(10, e)) + 7)
    .attr('text-anchor', 'end');
  t.append('tspan').attr('font-size', 21).text('10');
  t.append('tspan').attr('font-size', 14).attr('dy', -9).text(e < 0 ? '\u2212' + (-e) : String(e));
});

// frame
svg.append('rect')
  .attr('x', frame.left).attr('y', frame.top)
  .attr('width', frame.right - frame.left).attr('height', frame.bottom - frame.top)
  .attr('fill', 'none')
  .attr('stroke', '#000')
  .attr('stroke-width', 3.5);

// summary box
const box = svg.append('g');
box.append('rect')
  .attr('x', 159).attr('y', 62)
  .attr('width', 322).attr('height', 76)
  .attr('rx', 9).attr('ry', 9)
  .attr('fill', '#fff')
  .attr('stroke', '#000')
  .attr('stroke-width', 3);
box.selectAll('text')
  .data(boxLines)
  .enter()
  .append('text')
  .attr('x', 168)
  .attr('y', function(d, i) { return 92 + i * 30; })
  .attr('font-family', 'DejaVu Serif')
  .attr('font-size', 27.5)
  .attr('fill', '#000')
  .text(function(d) { return d; });

// axis titles
const xTitle = svg.append('text')
  .attr('x', 631)
  .attr('y', 824)
  .attr('text-anchor', 'middle')
  .attr('font-family', 'DejaVu Serif')
  .attr('font-size', 37)
  .attr('fill', '#000');
xTitle.append('tspan').text('Planet Radius [');
xTitle.append('tspan').attr('font-style', 'italic').text('R');
xTitle.append('tspan').attr('font-size', 22).attr('dy', 5).text('\u2295');
xTitle.append('tspan').attr('dy', -5).text('\u2009]');

svg.append('text')
  .attr('transform', 'translate(45,379) rotate(-90)')
  .attr('text-anchor', 'middle')
  .attr('font-family', 'DejaVu Sans')
  .attr('font-size', 39)
  .attr('fill', '#000')
  .text('False Positive Probability');
</script>
</body>
</html>
